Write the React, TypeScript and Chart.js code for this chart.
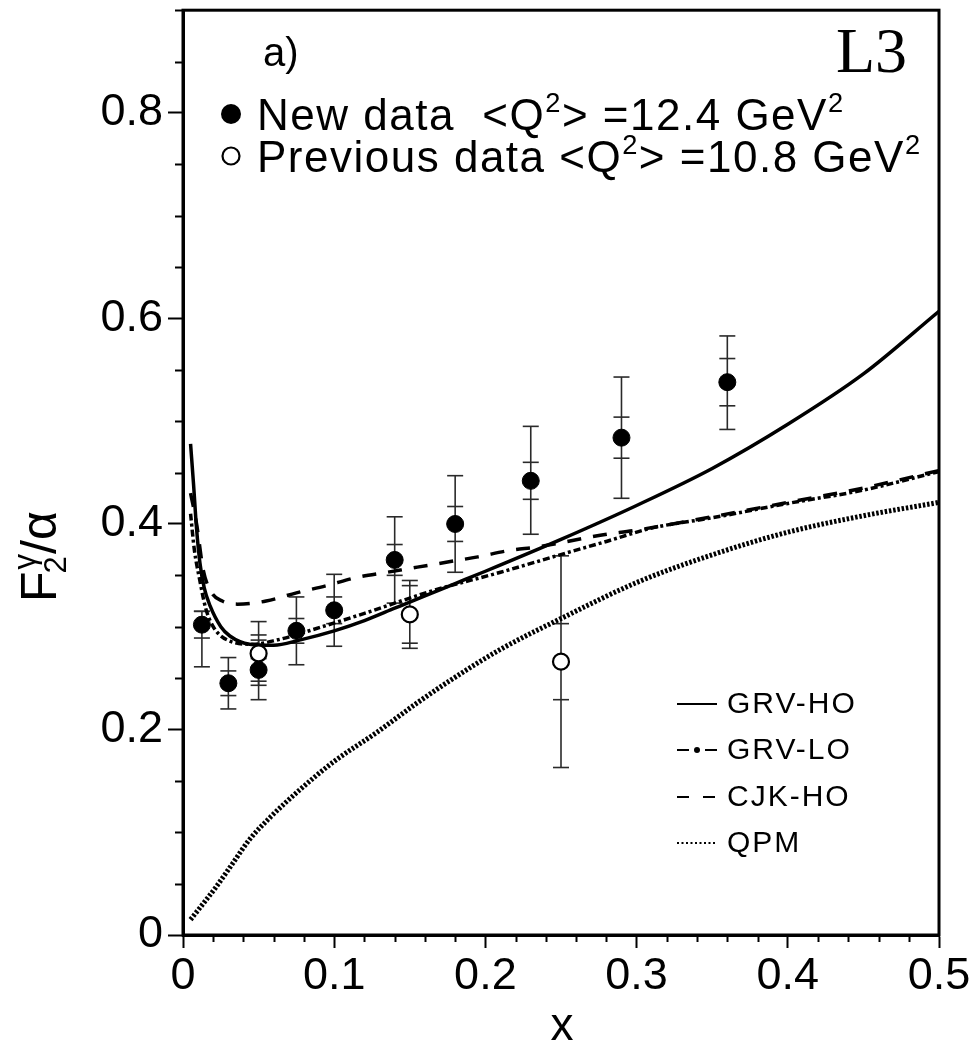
import React, { useEffect, useRef } from 'react';
import { Chart, registerables } from 'chart.js';

Chart.register(...registerables);

// ---- Measured F2/alpha (new data, <Q2> = 12.4 GeV2) ----
const newX = [0.0125, 0.03, 0.05, 0.075, 0.1, 0.14, 0.18, 0.23, 0.29, 0.36];
const newY = [0.302, 0.245, 0.258, 0.296, 0.316, 0.365, 0.4, 0.442, 0.484, 0.538];
const newStat = [0.013, 0.012, 0.011, 0.012, 0.013, 0.015, 0.017, 0.018, 0.02, 0.023];
const newTotUp = [0.013, 0.025, 0.029, 0.033, 0.035, 0.042, 0.047, 0.053, 0.059, 0.045];
const newTotDown = [0.041, 0.025, 0.029, 0.033, 0.035, 0.042, 0.047, 0.052, 0.059, 0.046];

// ---- Previous data (<Q2> = 10.8 GeV2) ----
const prevX = [0.05, 0.15, 0.25];
const prevY = [0.274, 0.312, 0.266];
const prevStat = [0.018, 0.028, 0.037];
const prevTot = [0.031, 0.033, 0.103];

// ---- Model curves ----
const grvHoX = [0.005, 0.007, 0.009, 0.0112, 0.014, 0.018, 0.025, 0.031, 0.044, 0.06, 0.077, 0.1, 0.12, 0.14, 0.16, 0.18, 0.2, 0.25, 0.3, 0.35, 0.4, 0.45, 0.5];
const grvHoY = [0.478, 0.438, 0.395, 0.362, 0.338, 0.32, 0.3, 0.291, 0.283, 0.282, 0.287, 0.296, 0.306, 0.318, 0.33, 0.342, 0.354, 0.385, 0.418, 0.454, 0.497, 0.546, 0.607];

const grvLoX = [0.005, 0.0075, 0.011, 0.015, 0.02, 0.031, 0.046, 0.062, 0.092, 0.12, 0.165, 0.21, 0.254, 0.28, 0.31, 0.35, 0.4, 0.45, 0.5];
const grvLoY = [0.41, 0.375, 0.346, 0.318, 0.3, 0.286, 0.283, 0.287, 0.3, 0.313, 0.335, 0.353, 0.372, 0.383, 0.396, 0.406, 0.42, 0.433, 0.451];

const cjkHoX = [0.005, 0.009, 0.0134, 0.019, 0.026, 0.036, 0.055, 0.075, 0.095, 0.115, 0.135, 0.155, 0.175, 0.195, 0.215, 0.236, 0.276, 0.3, 0.35, 0.4, 0.45, 0.5];
const cjkHoY = [0.43, 0.4, 0.355, 0.333, 0.325, 0.322, 0.325, 0.333, 0.34, 0.348, 0.353, 0.358, 0.363, 0.368, 0.374, 0.378, 0.389, 0.394, 0.407, 0.421, 0.435, 0.452];

const qpmX = [0.005, 0.012, 0.022, 0.033, 0.044, 0.058, 0.077, 0.1, 0.128, 0.155, 0.177, 0.21, 0.25, 0.3, 0.35, 0.4, 0.45, 0.5];
const qpmY = [0.015, 0.028, 0.047, 0.07, 0.093, 0.115, 0.141, 0.169, 0.197, 0.226, 0.248, 0.278, 0.308, 0.343, 0.37, 0.392, 0.408, 0.421];

// ---- Axes ----
const xMin = 0, xMax = 0.5, xMajor = 0.1, xMinor = 0.02;
const yMin = 0, yMax = 0.9, yMajor = 0.2, yMinor = 0.05;

const modelLabels = ['GRV-HO', 'GRV-LO', 'CJK-HO', 'QPM'];

const W = 976;
const H = 1046;
const SANS = "'Liberation Sans', Arial, Helvetica, sans-serif";
const SERIF = "'Liberation Serif', 'Times New Roman', serif";

const pts = (xs: number[], ys: number[]) => xs.map((x, i) => ({ x, y: ys[i] }));
const near = (v: number, step: number) => Math.abs(v / step - Math.round(v / step)) < 1e-6;
const fmt = (v: number) => String(Math.round(v * 100) / 100);

type Part = { t: string; sup?: boolean };

function drawRich(ctx: CanvasRenderingContext2D, parts: Part[], x: number, y: number, size: number, spacing: number) {
  let cx = x;
  for (const p of parts) {
    const s = p.sup ? size * 0.62 : size;
    ctx.font = `${s}px ${SANS}`;
    (ctx as any).letterSpacing = `${spacing}px`;
    ctx.fillText(p.t, cx, p.sup ? y - size * 0.42 : y);
    cx += ctx.measureText(p.t).width;
  }
  (ctx as any).letterSpacing = '0px';
}

const errorBars = {
  id: 'errorBars',
  beforeDatasetsDraw(chart: any) {
    const { ctx, scales } = chart;
    const xs = scales.x, ys = scales.y;
    ctx.save();
    ctx.strokeStyle = '#2a2a2a';
    ctx.lineWidth = 1.6;
    const cap = 8;
    const hline = (px: number, v: number) => {
      const py = ys.getPixelForValue(v);
      ctx.beginPath();
      ctx.moveTo(px - cap, py);
      ctx.lineTo(px + cap, py);
      ctx.stroke();
    };
    const draw = (X: number[], Y: number[], st: number[], up: number[], dn: number[]) => {
      X.forEach((xv, i) => {
        const px = xs.getPixelForValue(xv);
        ctx.beginPath();
        ctx.moveTo(px, ys.getPixelForValue(Y[i] + up[i]));
        ctx.lineTo(px, ys.getPixelForValue(Y[i] - dn[i]));
        ctx.stroke();
        hline(px, Y[i] + up[i]);
        hline(px, Y[i] - dn[i]);
        hline(px, Y[i] + st[i]);
        hline(px, Y[i] - st[i]);
      });
    };
    draw(newX, newY, newStat, newTotUp, newTotDown);
    draw(prevX, prevY, prevStat, prevTot, prevTot);
    ctx.restore();
  },
};

const decorations = {
  id: 'decorations',
  afterDraw(chart: any) {
    const { ctx, chartArea: a, scales } = chart;
    const xs = scales.x, ys = scales.y;
    ctx.save();
    ctx.fillStyle = '#000';
    ctx.strokeStyle = '#000';

    // frame
    ctx.lineWidth = 3;
    ctx.strokeRect(a.left, a.top, a.right - a.left, a.bottom - a.top);

    // minor ticks
    ctx.lineWidth = 2;
    for (let v = yMin; v <= yMax + 1e-9; v += yMinor) {
      if (near(v, yMajor)) continue;
      const py = Math.round(ys.getPixelForValue(v)) + 0.5;
      ctx.beginPath();
      ctx.moveTo(a.left - 8, py);
      ctx.lineTo(a.left, py);
      ctx.stroke();
    }
    for (let v = xMin; v <= xMax + 1e-9; v += xMinor) {
      if (near(v, xMajor)) continue;
      const px = Math.round(xs.getPixelForValue(v)) + 0.5;
      ctx.beginPath();
      ctx.moveTo(px, a.bottom);
      ctx.lineTo(px, a.bottom + 7);
      ctx.stroke();
    }

    // axis titles
    ctx.textBaseline = 'alphabetic';
    ctx.font = `46px ${SANS}`;
    ctx.textAlign = 'center';
    ctx.fillText('x', 562, 1040);
    ctx.textAlign = 'left';

    ctx.save();
    ctx.translate(56, 602);
    ctx.rotate(-Math.PI / 2);
    ctx.font = `50px ${SANS}`;
    ctx.fillText('F', 0, 0);
    const fw = ctx.measureText('F').width;
    ctx.font = `31px ${SANS}`;
    ctx.fillText('2', fw - 2, 10);
    ctx.fillText('\u03b3', fw + 2, -21);
    const gw = ctx.measureText('\u03b3').width;
    ctx.font = `50px ${SANS}`;
    ctx.fillText('/\u03b1', fw + gw + 2, 0);
    ctx.restore();

    // panel tag and experiment name
    ctx.font = `40px ${SANS}`;
    ctx.fillText('a)', 263, 66);
    ctx.font = `64px ${SERIF}`;
    ctx.textAlign = 'right';
    ctx.fillText('L3', 907, 72);
    ctx.textAlign = 'left';

    // data legend
    ctx.beginPath();
    ctx.arc(231, 114, 10, 0, Math.PI * 2);
    ctx.fill();
    drawRich(ctx, [{ t: 'New data  <Q' }, { t: '2', sup: true }, { t: '> =12.4 GeV' }, { t: '2', sup: true }], 257, 130, 44, 1.5);
    ctx.beginPath();
    ctx.lineWidth = 2.2;
    ctx.arc(231, 156, 8.5, 0, Math.PI * 2);
    ctx.stroke();
    drawRich(ctx, [{ t: 'Previous data <Q' }, { t: '2', sup: true }, { t: '> =10.8 GeV' }, { t: '2', sup: true }], 257, 172, 44, 1.5);

    // model legend
    const lx0 = 677, lx1 = 717, tx = 727;
    const rows = [704, 750, 797, 843];
    ctx.font = `30px ${SANS}`;
    (ctx as any).letterSpacing = '2px';
    ctx.textBaseline = 'middle';
    modelLabels.forEach((lab, i) => ctx.fillText(lab, tx, rows[i] + 1));
    (ctx as any).letterSpacing = '0px';
    ctx.lineWidth = 2;
    // solid
    ctx.beginPath(); ctx.moveTo(lx0, rows[0]); ctx.lineTo(lx1, rows[0]); ctx.stroke();
    // dash-dot
    ctx.beginPath(); ctx.moveTo(lx0, rows[1]); ctx.lineTo(lx0 + 12, rows[1]); ctx.moveTo(lx1 - 12, rows[1]); ctx.lineTo(lx1, rows[1]); ctx.stroke();
    ctx.beginPath(); ctx.arc((lx0 + lx1) / 2, rows[1], 3, 0, Math.PI * 2); ctx.fill();
    // dashed
    ctx.beginPath(); ctx.moveTo(lx0, rows[2]); ctx.lineTo(lx0 + 12, rows[2]); ctx.moveTo(lx1 - 14, rows[2]); ctx.lineTo(lx1 - 2, rows[2]); ctx.stroke();
    // dotted
    ctx.setLineDash([2, 2.5]);
    ctx.beginPath(); ctx.moveTo(lx0, rows[3]); ctx.lineTo(lx1, rows[3]); ctx.stroke();
    ctx.setLineDash([]);

    ctx.restore();
  },
};

export default function App() {
  const ref = useRef<HTMLCanvasElement>(null);

  useEffect(() => {
    const canvas = ref.current;
    if (!canvas) return;
    const curve = (label: string, xs: number[], ys: number[], extra: any) => ({
      type: 'line',
      label,
      data: pts(xs, ys),
      showLine: true,
      borderColor: '#000',
      backgroundColor: '#000',
      pointRadius: 0,
      cubicInterpolationMode: 'monotone',
      fill: false,
      ...extra,
    });

    const chart = new Chart(canvas, {
      type: 'scatter',
      data: {
        datasets: [
          {
            label: 'New data',
            data: pts(newX, newY),
            pointRadius: 8.5,
            pointBackgroundColor: '#000',
            pointBorderColor: '#000',
            pointBorderWidth: 1,
          },
          {
            label: 'Previous data',
            data: pts(prevX, prevY),
            pointRadius: 8,
            pointBackgroundColor: '#fff',
            pointBorderColor: '#000',
            pointBorderWidth: 2.2,
          },
          curve(modelLabels[0], grvHoX, grvHoY, { borderWidth: 3.5 }),
          curve(modelLabels[1], grvLoX, grvLoY, { borderWidth: 3.5, borderDash: [7, 3, 3, 3] }),
          curve(modelLabels[2], cjkHoX, cjkHoY, { borderWidth: 3.5, borderDash: [14, 12] }),
          curve(modelLabels[3], qpmX, qpmY, { borderWidth: 5, borderDash: [2.5, 1.8] }),
        ] as any,
      },
      options: {
        responsive: false,
        animation: false,
        devicePixelRatio: 1,
        layout: { padding: { top: 10, right: 37, left: 0, bottom: 0 } },
        plugins: { legend: { display: false }, tooltip: { enabled: false } },
        scales: {
          x: {
            type: 'linear',
            position: 'bottom',
            min: xMin,
            max: xMax,
            afterBuildTicks: (s: any) => {
              s.ticks = s.ticks.filter((t: any) => near(t.value, xMajor));
            },
            afterFit: (s: any) => {
              s.height = 111;
              s.paddingLeft = 0;
              s.paddingRight = 0;
            },
            ticks: {
              stepSize: xMajor,
              maxRotation: 0,
              autoSkip: false,
              padding: 2,
              color: '#000',
              font: { family: SANS, size: 45 },
              callback: (v: any) => fmt(Number(v)),
            },
            grid: { drawOnChartArea: false, drawTicks: true, tickLength: 13, tickWidth: 2, tickColor: '#000' },
            border: { display: true, color: '#000', width: 3 },
          },
          y: {
            type: 'linear',
            min: yMin,
            max: yMax,
            afterBuildTicks: (s: any) => {
              s.ticks = s.ticks.filter((t: any) => near(t.value, yMajor));
            },
            afterFit: (s: any) => {
              s.width = 183;
              s.paddingTop = 0;
              s.paddingBottom = 0;
            },
            ticks: {
              stepSize: yMajor,
              autoSkip: false,
              padding: 5,
              color: '#000',
              font: { family: SANS, size: 45 },
              callback: (v: any) => fmt(Number(v)),
            },
            grid: { drawOnChartArea: false, drawTicks: true, tickLength: 15, tickWidth: 2, tickColor: '#000' },
            border: { display: true, color: '#000', width: 3 },
          },
        },
      } as any,
      plugins: [errorBars, decorations],
    });
    return () => chart.destroy();
  }, []);

  return (
    <div style={{ position: 'fixed', left: 0, top: 0, width: W, height: H, background: '#fff' }}>
      <canvas ref={ref} width={W} height={H} style={{ width: W, height: H, display: 'block' }} />
    </div>
  );
}
